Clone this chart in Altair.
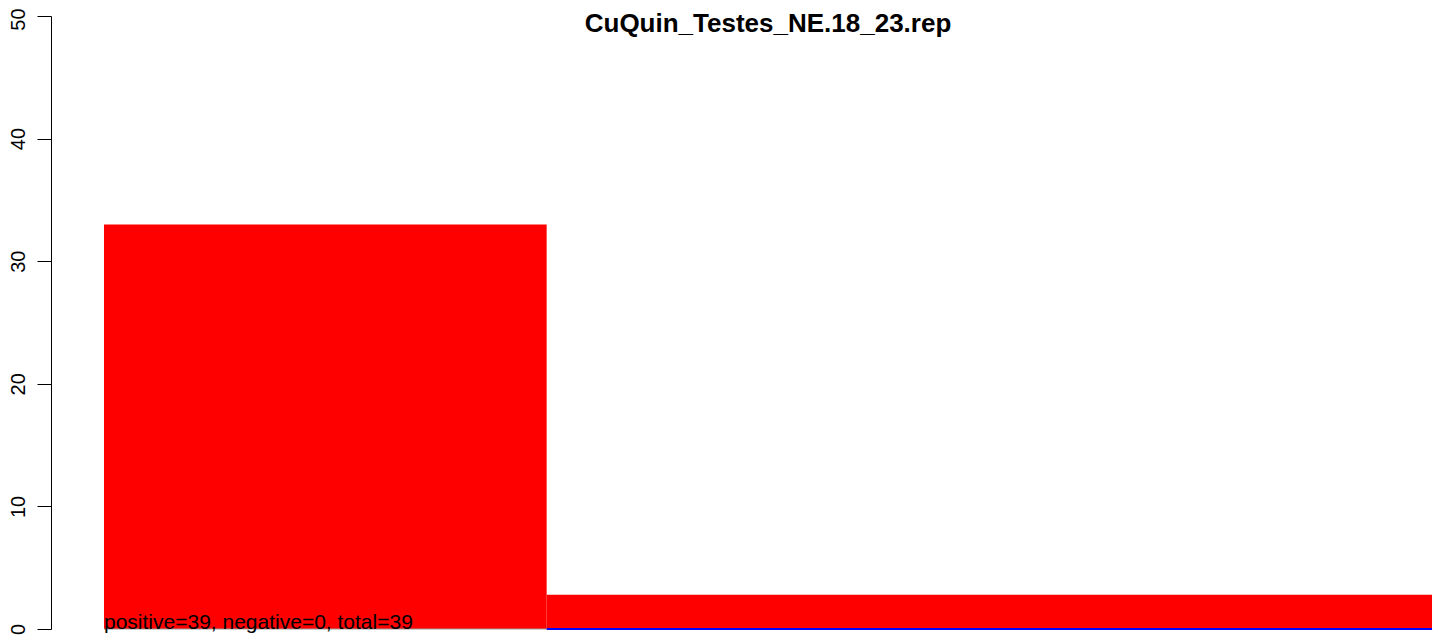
import altair as alt
import pandas as pd

# data
bin_start = [0, 1]
bin_end = [1, 3]
counts = [33, 2.8]
title_text = "CuQuin_Testes_NE.18_23.rep"
note_text = "positive=39, negative=0, total=39"
y_ticks = [0, 10, 20, 30, 40, 50]

bars = pd.DataFrame({"x0": bin_start, "x1": bin_end, "n": counts})
neg = pd.DataFrame({"x0": [1], "x1": [3], "y": [0]})
base_line = pd.DataFrame({"x0": [0], "x1": [1], "y": [0]})
note = pd.DataFrame({"x": [0], "y": [0], "t": [note_text]})
ttl = pd.DataFrame({"t": [title_text]})

FONT = "Liberation Sans"
xs = alt.Scale(domain=[-0.1197, 3.009], nice=False, zero=False)
ys = alt.Scale(domain=[0, 50], nice=False, zero=False)

rect = alt.Chart(bars).mark_rect(color="#ff0000").encode(
    x=alt.X("x0:Q", scale=xs, axis=None),
    x2="x1:Q",
    y=alt.Y("n:Q", scale=ys, axis=alt.Axis(
        values=y_ticks, title=None, grid=False, labelAngle=270,
        labelFontSize=20, labelFont=FONT, labelColor="black",
        tickSize=14, tickColor="black", tickWidth=1,
        domainColor="black", domainWidth=1, labelPadding=9,
        labelOffset={"condition": {"test": "datum.value == 50", "value": 3}, "value": 0},
        labelBaseline="bottom", labelAlign="center")),
    y2=alt.datum(0),
)

gray = alt.Chart(base_line).mark_rule(color="#999999", strokeWidth=1).encode(
    x=alt.X("x0:Q", scale=xs), x2="x1:Q", y=alt.Y("y:Q", scale=ys)
)

blue = alt.Chart(neg).mark_rule(color="#0000ff", strokeWidth=2).encode(
    x=alt.X("x0:Q", scale=xs), x2="x1:Q", y=alt.Y("y:Q", scale=ys)
)

txt = alt.Chart(note).mark_text(
    align="left", baseline="alphabetic", fontSize=21, font=FONT, color="black"
).encode(x=alt.X("x:Q", scale=xs), y=alt.Y("y:Q", scale=ys), text="t:N")

title = alt.Chart(ttl).mark_text(
    align="center", baseline="alphabetic", fontSize=26, font=FONT,
    fontWeight="bold", color="black"
).encode(x=alt.value(717), y=alt.value(16), text="t:N")

chart = alt.layer(rect, gray, blue, txt, title).properties(
    width=1385, height=613,
    autosize=alt.AutoSizeParams(type="none"),
    padding={"left": 43, "top": 8, "right": 0, "bottom": 6},
).configure(background="white").configure_view(stroke=None, strokeWidth=0)

chart.save("out.html", embed_options={"renderer": "svg", "actions": False})
